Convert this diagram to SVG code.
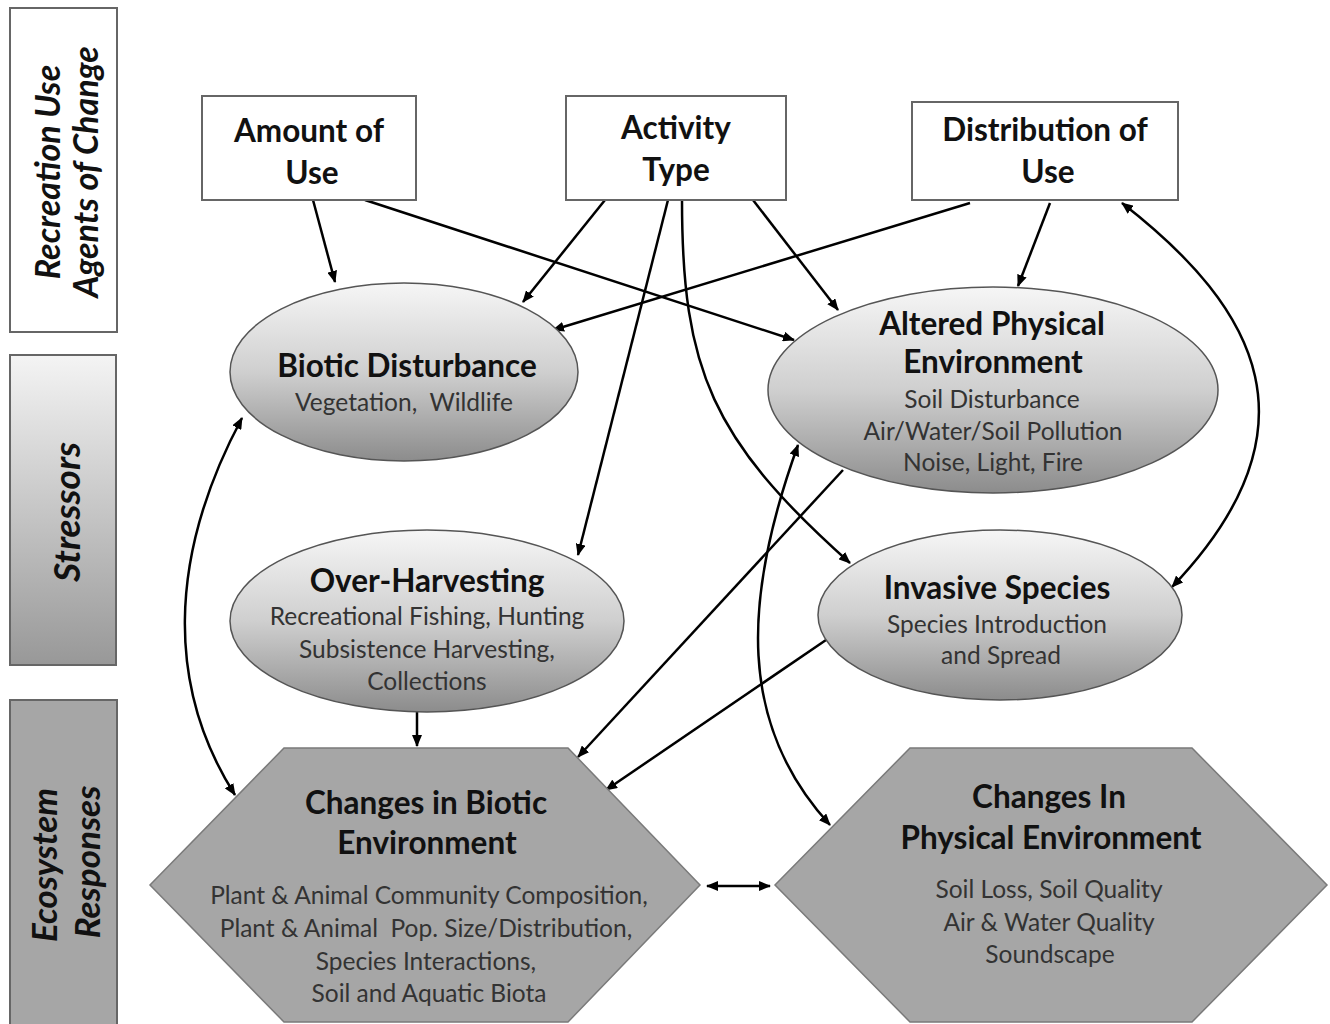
<svg xmlns="http://www.w3.org/2000/svg" width="1330" height="1024" viewBox="0 0 1330 1024">
<style>
.box{fill:#fff;stroke:#666;stroke-width:2}
.ell{fill:url(#eg);stroke:#555;stroke-width:1.5}
.hex{fill:#a6a6a6;stroke:#7a7a7a;stroke-width:1.5}
.t{font-family:Lato,"Liberation Sans",sans-serif;text-anchor:middle;fill:#111;font-weight:bold;font-size:31.5px}
.s{font-family:Lato,"Liberation Sans",sans-serif;text-anchor:middle;fill:#333;font-size:24.5px;white-space:pre}
.side{font-family:Lato,"Liberation Sans",sans-serif;text-anchor:middle;fill:#111;font-weight:bold;font-style:italic;font-size:34px}
.c{fill:none;stroke:#000;stroke-width:2.5}
</style>
<defs>
<linearGradient id="eg" x1="0" y1="0" x2="0" y2="1">
<stop offset="0" stop-color="#f6f6f6"/><stop offset="0.5" stop-color="#cfcfcf"/><stop offset="1" stop-color="#8c8c8c"/>
</linearGradient>
<linearGradient id="sg" x1="0" y1="0" x2="0" y2="1">
<stop offset="0" stop-color="#f4f4f4"/><stop offset="1" stop-color="#989898"/>
</linearGradient>
<marker id="ah" viewBox="0 0 12 10" refX="11" refY="5" markerWidth="12" markerHeight="10" markerUnits="userSpaceOnUse" orient="auto-start-reverse">
<path d="M0,0 L12,5 L0,10 Z" fill="#000"/>
</marker>
</defs>
<rect width="1330" height="1024" fill="#fff"/>

<g id="side-agents">
<rect x="10" y="8" width="107" height="324" class="box"/>
<text class="side" transform="translate(60,172) rotate(-90)">Recreation Use</text>
<text class="side" transform="translate(98,172) rotate(-90)">Agents of Change</text>
</g>
<g id="side-stressors">
<rect x="10" y="355" width="106" height="310" fill="url(#sg)" stroke="#666" stroke-width="2"/>
<text class="side" transform="translate(80,512) rotate(-90)" style="font-size:37px">Stressors</text>
</g>
<g id="side-responses">
<rect x="10" y="700" width="107" height="330" fill="#a6a6a6" stroke="#666" stroke-width="2"/>
<text class="side" transform="translate(57,865) rotate(-90)" style="font-size:35px">Ecosystem</text>
<text class="side" transform="translate(100,862) rotate(-90)" style="font-size:35px">Responses</text>
</g>

<g id="connectors">
<line class="c" x1="313" y1="200" x2="335" y2="282" marker-end="url(#ah)"/>
<line class="c" x1="365" y1="200" x2="794" y2="340" marker-end="url(#ah)"/>
<line class="c" x1="605" y1="200" x2="523" y2="302" marker-end="url(#ah)"/>
<line class="c" x1="668" y1="200" x2="578" y2="555" marker-end="url(#ah)"/>
<path class="c" d="M682,200 C682,370 712,440 850,563" marker-end="url(#ah)"/>
<line class="c" x1="753" y1="200" x2="838" y2="310" marker-end="url(#ah)"/>
<line class="c" x1="970" y1="203" x2="553" y2="330" marker-end="url(#ah)"/>
<line class="c" x1="1050" y1="203" x2="1018" y2="286" marker-end="url(#ah)"/>
<path class="c" d="M1122,203 C1260,310 1322,430 1172,587" marker-start="url(#ah)" marker-end="url(#ah)"/>
<path class="c" d="M242,418 C166,560 168,690 235,795" marker-start="url(#ah)" marker-end="url(#ah)"/>
<line class="c" x1="417" y1="712" x2="417" y2="746" marker-end="url(#ah)"/>
<line class="c" x1="843" y1="470" x2="578" y2="757" marker-end="url(#ah)"/>
<line class="c" x1="826" y1="640" x2="606" y2="790" marker-end="url(#ah)"/>
<path class="c" d="M798,445 C742,600 738,725 830,825" marker-start="url(#ah)" marker-end="url(#ah)"/>
<line class="c" x1="707" y1="886" x2="770" y2="886" marker-start="url(#ah)" marker-end="url(#ah)"/>
</g>

<g id="amount-of-use">
<rect x="202" y="96" width="214" height="104" class="box"/>
<text class="t" x="309" y="142">Amount of</text>
<text class="t" x="312" y="184">Use</text>
</g>
<g id="activity-type">
<rect x="566" y="96" width="220" height="104" class="box"/>
<text class="t" x="676" y="139">Activity</text>
<text class="t" x="676" y="181">Type</text>
</g>
<g id="distribution-of-use">
<rect x="912" y="102" width="266" height="98" class="box"/>
<text class="t" x="1045" y="141">Distribution of</text>
<text class="t" x="1048" y="183">Use</text>
</g>

<g id="biotic-disturbance">
<ellipse cx="404" cy="372" rx="174" ry="89" class="ell"/>
<text class="t" x="407" y="377">Biotic Disturbance</text>
<text class="s" x="404" y="411" xml:space="preserve">Vegetation,  Wildlife</text>
</g>
<g id="altered-physical">
<ellipse cx="993" cy="390" rx="225" ry="103" class="ell"/>
<text class="t" x="992" y="335">Altered Physical</text>
<text class="t" x="993" y="373">Environment</text>
<text class="s" x="992" y="408">Soil Disturbance</text>
<text class="s" x="993" y="440">Air/Water/Soil Pollution</text>
<text class="s" x="993" y="471">Noise, Light, Fire</text>
</g>
<g id="over-harvesting">
<ellipse cx="427" cy="621" rx="197" ry="91" class="ell"/>
<text class="t" x="427" y="592">Over-Harvesting</text>
<text class="s" x="427" y="625">Recreational Fishing, Hunting</text>
<text class="s" x="427" y="658">Subsistence Harvesting,</text>
<text class="s" x="427" y="690">Collections</text>
</g>
<g id="invasive-species">
<ellipse cx="1000" cy="615" rx="182" ry="85" class="ell"/>
<text class="t" x="997" y="599">Invasive Species</text>
<text class="s" x="997" y="633">Species Introduction</text>
<text class="s" x="1001" y="664">and Spread</text>
</g>

<g id="changes-biotic">
<polygon points="284,748 568,748 700,885 568,1022 284,1022 150,885" class="hex"/>
<text class="t" x="426" y="814">Changes in Biotic</text>
<text class="t" x="427" y="854">Environment</text>
<text class="s" x="429" y="904">Plant &amp; Animal Community Composition,</text>
<text class="s" x="426" y="937" xml:space="preserve">Plant &amp; Animal  Pop. Size/Distribution,</text>
<text class="s" x="426" y="970">Species Interactions,</text>
<text class="s" x="429" y="1002">Soil and Aquatic Biota</text>
</g>
<g id="changes-physical">
<polygon points="910,748 1192,748 1327,885 1192,1022 910,1022 775,885" class="hex"/>
<text class="t" x="1049" y="808">Changes In</text>
<text class="t" x="1051" y="849">Physical Environment</text>
<text class="s" x="1049" y="898">Soil Loss, Soil Quality</text>
<text class="s" x="1049" y="931">Air &amp; Water Quality</text>
<text class="s" x="1050" y="963">Soundscape</text>
</g>
</svg>
